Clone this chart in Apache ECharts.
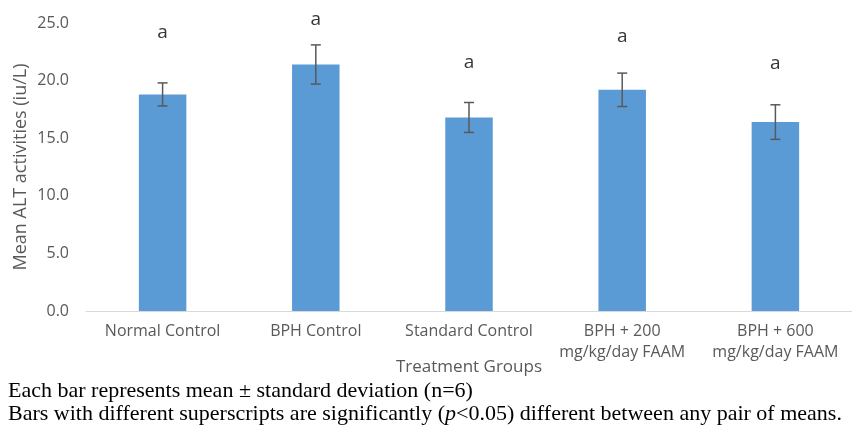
<!DOCTYPE html>
<html><head><meta charset="utf-8">
<script src="https://cdn.jsdelivr.net/npm/echarts@6/dist/echarts.min.js"></script>
<style>html,body{margin:0;padding:0;background:#fff}#c{width:852px;height:434px}</style>
</head><body><div id="c"></div>
<script>
const categories = ['Normal Control', 'BPH Control', 'Standard Control', 'BPH + 200\nmg/kg/day FAAM', 'BPH + 600\nmg/kg/day FAAM'];
const means = [18.8, 21.4, 16.8, 19.2, 16.4];
const sds = [1.0, 1.7, 1.3, 1.45, 1.5];
const letters = ['a', 'a', 'a', 'a', 'a'];
const letterY = [24.2, 25.3, 21.6, 23.8, 21.5];
const yTicks = [0, 5, 10, 15, 20, 25];

const chart = echarts.init(document.getElementById('c'));
const font = '"Open Sans", Lato, sans-serif';
chart.setOption({
  animation: false,
  grid: { left: 86, right: -10, top: 23, bottom: 123 },
  title: {
    left: 3, top: 375,
    text: 'Each bar represents mean \u00b1 standard deviation (n=6)\nBars with different superscripts are significantly ({it|p}<0.05) different between any pair of means.',
    textStyle: {
      fontFamily: '"Liberation Serif", serif', fontSize: 22, fontWeight: 'normal', color: '#000', lineHeight: 23,
      rich: { it: { fontStyle: 'italic', fontFamily: '"Liberation Serif", serif', fontSize: 22, color: '#000', lineHeight: 23 } }
    }
  },
  xAxis: {
    type: 'category', data: categories,
    name: 'Treatment Groups', nameLocation: 'middle', nameGap: 48, nameMoveOverlap: false,
    nameTextStyle: { fontFamily: font, fontSize: 17, color: '#595959' },
    axisLine: { lineStyle: { color: '#d9d9d9', width: 1 } },
    axisTick: { show: false },
    axisLabel: { fontFamily: font, fontSize: 16, color: '#595959', margin: 10, lineHeight: 21, interval: 0 }
  },
  yAxis: {
    type: 'value', min: yTicks[0], max: yTicks[yTicks.length - 1], interval: 5,
    name: 'Mean ALT activities (iu/L)', nameLocation: 'middle', nameGap: 56, nameRotate: 90, nameMoveOverlap: false,
    nameTextStyle: { fontFamily: font, fontSize: 18, color: '#595959' },
    axisLine: { show: false }, axisTick: { show: false }, splitLine: { show: false },
    axisLabel: { fontFamily: font, fontSize: 16, color: '#595959', margin: 17, formatter: v => v.toFixed(1) }
  },
  series: [
    {
      type: 'bar', data: means, barWidth: '31%',
      itemStyle: { color: '#5B9BD5' }
    },
    {
      type: 'custom',
      data: means.map((m, i) => [i, m - sds[i], m + sds[i]]),
      renderItem: function (params, api) {
        const lo = api.coord([api.value(0), api.value(1)]);
        const hi = api.coord([api.value(0), api.value(2)]);
        const hw = 5;
        const st = { stroke: '#595959', lineWidth: 1.5 };
        return { type: 'group', children: [
          { type: 'line', shape: { x1: lo[0], y1: lo[1], x2: hi[0], y2: hi[1] }, style: st },
          { type: 'line', shape: { x1: lo[0] - hw, y1: lo[1], x2: lo[0] + hw, y2: lo[1] }, style: st },
          { type: 'line', shape: { x1: hi[0] - hw, y1: hi[1], x2: hi[0] + hw, y2: hi[1] }, style: st }
        ]};
      },
      z: 10
    },
    {
      type: 'scatter', symbolSize: 0, clip: false,
      data: letterY.map((y, i) => ({ value: [i, y], label: { formatter: letters[i] } })),
      label: { show: true, position: 'inside', fontFamily: font, fontSize: 19, fontWeight: 500, color: '#000' },
      z: 11
    }
  ]
});
</script>
</body></html>
